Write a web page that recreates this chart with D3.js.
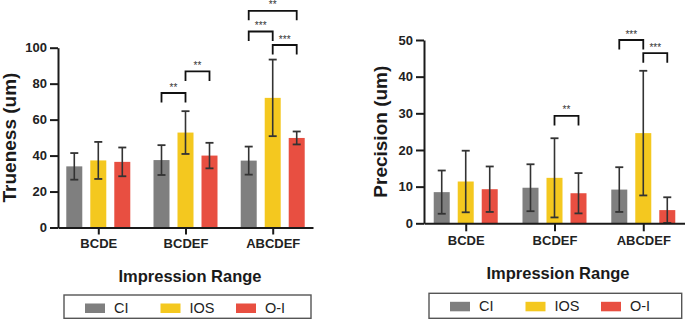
<!DOCTYPE html>
<html lang="en">
<head>
<meta charset="utf-8">
<script src="https://d3js.org/d3.v7.min.js"></script>
<style>
  body { margin: 0; background: #fff; }
  svg { font-family: "Liberation Sans", Arial, sans-serif; }
</style>
</head>
<body>
<div id="chart"></div>
<script>
// groups on the x axis and the three impression methods
const groups = ["BCDE", "BCDEF", "ABCDEF"];
const series = ["CI", "IOS", "O-I"];
const colors = ["#7f7f7f", "#f4c81f", "#e84f41"];

// rows = series (CI, IOS, O-I), columns = groups
const truenessMean = [[34.0, 37.5, 37.2], [37.3, 52.8, 72.1], [36.5, 40.0, 49.8]];
const truenessSD   = [[7.4, 8.3, 7.8], [10.3, 11.9, 21.3], [8.0, 7.1, 3.6]];
const precisionMean = [[8.5, 9.7, 9.2], [11.4, 12.4, 24.6], [9.3, 8.2, 3.6]];
const precisionSD   = [[5.9, 6.4, 6.1], [8.4, 10.8, 17.0], [6.2, 5.5, 3.5]];

const truenessTicks = [0, 20, 40, 60, 80, 100];
const precisionTicks = [0, 10, 20, 30, 40, 50];

// significance brackets: group, from series, to series, bracket level (data units), label
const truenessSig = [
  { g: "BCDEF", a: 0, b: 1, level: 74.8, label: "**" },
  { g: "BCDEF", a: 1, b: 2, level: 86.8, label: "**" },
  { g: "ABCDEF", a: 0, b: 2, level: 120.5, label: "**" },
  { g: "ABCDEF", a: 0, b: 1, level: 109.0, label: "***" },
  { g: "ABCDEF", a: 1, b: 2, level: 101.5, label: "***" }
];
const precisionSig = [
  { g: "BCDEF", a: 1, b: 2, level: 29.3, label: "**" },
  { g: "ABCDEF", a: 0, b: 1, level: 50.0, label: "***" },
  { g: "ABCDEF", a: 1, b: 2, level: 46.4, label: "***" }
];

const svg = d3.select("#chart").append("svg")
  .attr("width", 685)
  .attr("height", 320);

function drawChart(o) {
  const g = svg.append("g");

  const x = d3.scalePoint().domain(groups).range(o.xRange).padding(o.pad);
  const off = d3.scalePoint().domain(series).range([-24, 24]);
  const y = d3.scaleLinear().domain([0, o.yMax]).range(o.yRange);
  const barW = 16;

  // bars
  series.forEach((s, si) => {
    g.selectAll(".bar" + si)
      .data(groups.map((grp, gi) => ({ grp, v: o.mean[si][gi], sd: o.sd[si][gi] })))
      .enter().append("rect")
      .attr("x", d => x(d.grp) + off(s) - barW / 2)
      .attr("y", d => y(d.v))
      .attr("width", barW)
      .attr("height", d => y(0) - y(d.v))
      .attr("fill", colors[si]);
  });

  // error bars
  series.forEach((s, si) => {
    groups.forEach((grp, gi) => {
      const cx = x(grp) + off(s);
      const lo = Math.max(0, o.mean[si][gi] - o.sd[si][gi]);
      const hi = o.mean[si][gi] + o.sd[si][gi];
      g.append("line").attr("x1", cx).attr("x2", cx)
        .attr("y1", y(lo)).attr("y2", y(hi))
        .attr("stroke", "#333").attr("stroke-width", 1.6);
      [lo, hi].forEach(v => {
        g.append("line").attr("x1", cx - 4).attr("x2", cx + 4)
          .attr("y1", y(v)).attr("y2", y(v))
          .attr("stroke", "#333").attr("stroke-width", 1.8);
      });
    });
  });

  // axes
  const yAxis = g.append("g")
    .attr("transform", `translate(${o.xRange[0]},0)`)
    .call(d3.axisLeft(y).tickValues(o.ticks).tickSize(8).tickSizeOuter(0).tickPadding(3));
  const xAxis = g.append("g")
    .attr("transform", `translate(0,${o.yRange[0]})`)
    .call(d3.axisBottom(x).tickSize(o.xTick).tickSizeOuter(0).tickPadding(4));
  [yAxis, xAxis].forEach(a => {
    a.selectAll("path, line").attr("stroke", "#1a1a1a").attr("stroke-width", 2);
    a.selectAll("text").attr("fill", "#222").style("font-size", "13px").style("font-weight", "bold");
  });

  // significance brackets
  o.sig.forEach(b => {
    const x1 = x(b.g) + off(series[b.a]);
    const x2 = x(b.g) + off(series[b.b]);
    const yt = y(b.level);
    g.append("path")
      .attr("d", `M${x1},${yt + 9.5}V${yt}H${x2}V${yt + 9.5}`)
      .attr("fill", "none").attr("stroke", "#111").attr("stroke-width", 1.8);
    g.append("text")
      .attr("x", (x1 + x2) / 2).attr("y", yt - 2.5)
      .attr("text-anchor", "middle")
      .style("font-size", "10px").attr("fill", "#333")
      .text(b.label);
  });

  // axis titles
  g.append("text")
    .attr("transform", `translate(${o.yTitle[0]},${o.yTitle[1]}) rotate(-90)`)
    .attr("text-anchor", "middle")
    .style("font-size", "19px").style("font-weight", "bold").attr("fill", "#1a1a1a")
    .text(o.yLabel);
  g.append("text")
    .attr("x", o.xTitle[0]).attr("y", o.xTitle[1])
    .attr("text-anchor", "middle")
    .style("font-size", "16.5px").style("font-weight", "bold").attr("fill", "#1a1a1a")
    .text("Impression Range");

  // legend
  const lg = g.append("g");
  lg.append("rect")
    .attr("x", o.legend[0]).attr("y", o.legend[1])
    .attr("width", o.legend[2]).attr("height", o.legend[3])
    .attr("fill", "none").attr("stroke", "#555").attr("stroke-width", 1.4);
  series.forEach((s, si) => {
    const lx = o.legend[0] + 21 + si * 75.5;
    lg.append("rect")
      .attr("x", lx).attr("y", o.legend[1] + 8.5)
      .attr("width", 20).attr("height", 9.5)
      .attr("fill", colors[si]);
    lg.append("text")
      .attr("x", lx + 29).attr("y", o.legend[1] + 18)
      .style("font-size", "14.5px").attr("fill", "#222")
      .text(s);
  });
}

drawChart({
  xRange: [58, 313], pad: 0.462, yRange: [227.5, 47.7], yMax: 100, xTick: 7,
  mean: truenessMean, sd: truenessSD, ticks: truenessTicks, sig: truenessSig,
  yLabel: "Trueness (um)", yTitle: [16, 137.5], xTitle: [190, 282],
  legend: [64, 295, 247, 23.3]
});

drawChart({
  xRange: [424, 685], pad: 0.47, yRange: [223.3, 40], yMax: 50, xTick: 8,
  mean: precisionMean, sd: precisionSD, ticks: precisionTicks, sig: precisionSig,
  yLabel: "Precision (um)", yTitle: [387, 131.7], xTitle: [558, 278.5],
  legend: [429, 293.3, 252.7, 25]
});
</script>
</body>
</html>
